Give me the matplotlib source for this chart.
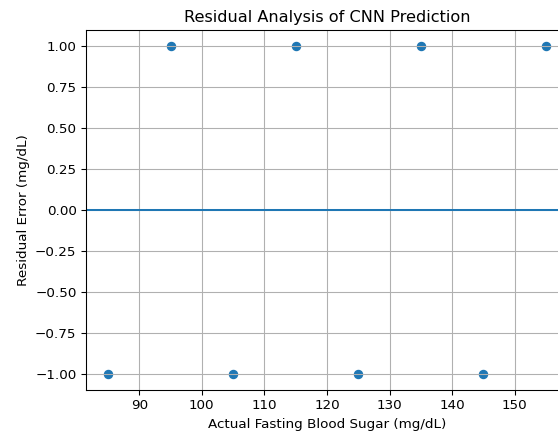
import matplotlib
matplotlib.use("Agg")
import matplotlib.pyplot as plt

# Actual fasting blood sugar values and residuals
actual = [85, 95, 105, 115, 125, 135, 145, 155]
residuals = [-1, 1, -1, 1, -1, 1, -1, 1]

# reference looks rendered slightly smaller than 100 dpi
dpi = 97
fig = plt.figure(figsize=(558 / dpi, 437 / dpi), dpi=dpi)
# axes run past the right edge, as in the reference
ax = fig.add_axes([86 / 558, 47 / 437, 482 / 558, 360 / 437])

ax.scatter(actual, residuals)
ax.axhline(0)

ax.set_title("Residual Analysis of CNN Prediction")
ax.set_xlabel("Actual Fasting Blood Sugar (mg/dL)")
ax.set_ylabel("Residual Error (mg/dL)")
ax.grid(True)

fig.savefig("out.png", dpi=dpi)
